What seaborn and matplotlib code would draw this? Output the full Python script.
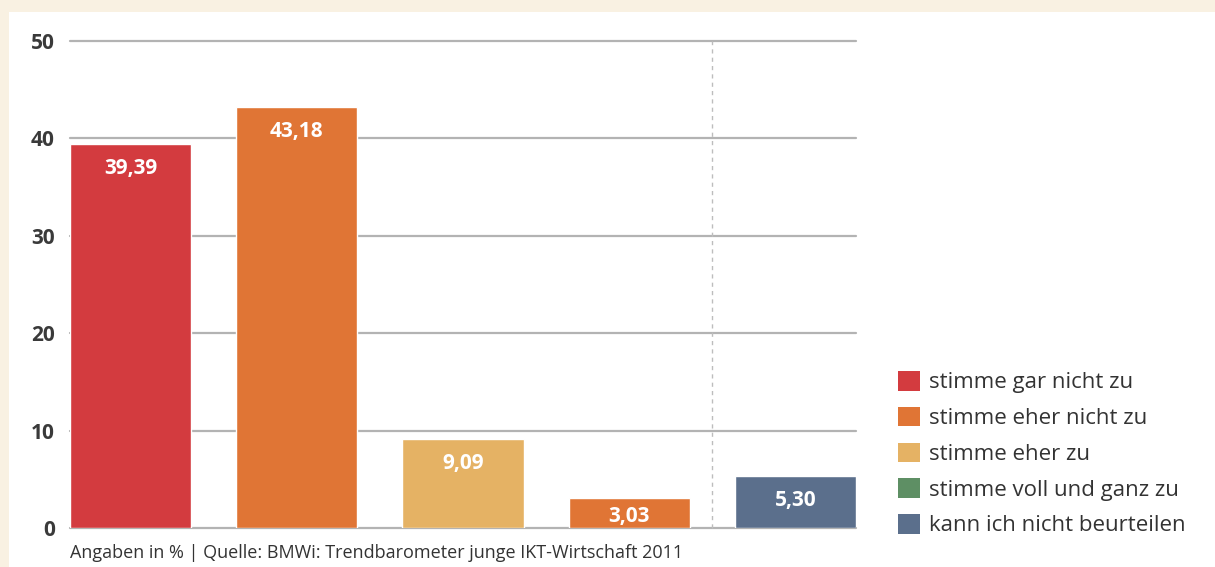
import matplotlib
matplotlib.use("Agg")
import matplotlib.pyplot as plt
import seaborn as sns
import pandas as pd
from matplotlib.patches import Patch, Rectangle

categories = ["stimme gar nicht zu", "stimme eher nicht zu", "stimme eher zu",
              "stimme voll und ganz zu", "kann ich nicht beurteilen"]
values = [39.39, 43.18, 9.09, 3.03, 5.30]
value_labels = ["39,39", "43,18", "9,09", "3,03", "5,30"]
bar_colors = ["#d33b3f", "#e07535", "#e5b264", "#e07535", "#5b6f8c"]
legend_colors = ["#d33b3f", "#e07535", "#e5b264", "#5e8f64", "#5b6f8c"]
y_ticks = [0, 10, 20, 30, 40, 50]
footer = "Angaben in % | Quelle: BMWi: Trendbarometer junge IKT-Wirtschaft 2011"

sns.set_style("white")
plt.rcParams["font.family"] = ["Open Sans", "DejaVu Sans"]

fig = plt.figure(figsize=(12.15, 5.67), dpi=100, facecolor="#f9f1e2")
# white panel inside the cream frame
fig.patches.append(Rectangle((9 / 1215, 0), 1, (567 - 12) / 567, transform=fig.transFigure,
                             facecolor="white", edgecolor="none", zorder=-1))

ax = fig.add_axes([70 / 1215, 39 / 567, 786 / 1215, 487 / 567])
ax.set_facecolor("none")

df = pd.DataFrame({"cat": categories, "val": values})
sns.barplot(data=df, x="cat", y="val", hue="cat", palette=bar_colors, legend=False,
            width=0.73, saturation=1, ax=ax, zorder=3)

ax.set_ylim(0, 50)
ax.set_xlim(-0.365, 4.365)
ax.set_yticks(y_ticks)
ax.set_yticklabels([str(t) for t in y_ticks], fontsize=15, fontweight="bold", color="#3a3a3a")
ax.tick_params(axis="y", length=0, pad=11)
ax.set_xticks([])
ax.set_xlabel("")
ax.set_ylabel("")
sns.despine(ax=ax, left=True, bottom=True, top=True, right=True)

for t in y_ticks:
    ax.axhline(t, color="#b3b3b3", lw=1.6, zorder=1, clip_on=False)
ax.axvline(3.5, color="#bdbdbd", lw=1, ls=(0, (3, 3)), zorder=1, clip_on=False)

for i, (v, lab) in enumerate(zip(values, value_labels)):
    y = max(v - 2.45, 1.15)
    ax.text(i, y, lab, ha="center", va="center", color="white", fontsize=15,
            fontweight="bold", zorder=4)

handles = [Patch(facecolor=c, edgecolor="none") for c in legend_colors]
fig.legend(handles, categories, loc="upper left", bbox_to_anchor=(898 / 1215, 1 - 371 / 567),
           frameon=False, fontsize=16, handlelength=0.98, handleheight=0.98,
           handletextpad=0.4, labelspacing=0.6, labelcolor="#333333", borderaxespad=0,
           borderpad=0)

fig.text(70 / 1215, 1 - 553 / 567, footer, fontsize=13, color="#333333", va="center", ha="left")

fig.savefig("out.png", dpi=100, facecolor=fig.get_facecolor())
